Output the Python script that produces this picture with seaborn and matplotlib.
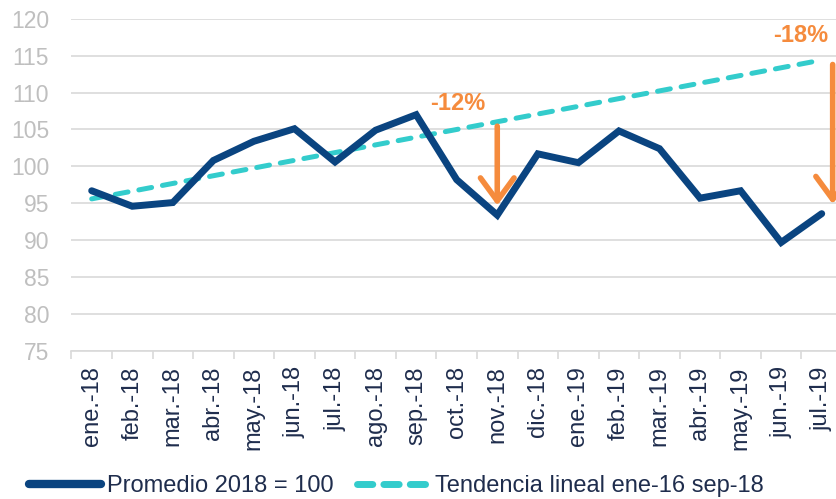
import numpy as np
import pandas as pd
import matplotlib
matplotlib.use("Agg")
import matplotlib.pyplot as plt
import seaborn as sns
from matplotlib.lines import Line2D

MONTHS = ["ene.-18", "feb.-18", "mar.-18", "abr.-18", "may.-18", "jun.-18",
          "jul.-18", "ago.-18", "sep.-18", "oct.-18", "nov.-18", "dic.-18",
          "ene.-19", "feb.-19", "mar.-19", "abr.-19", "may.-19", "jun.-19", "jul.-19"]
INDEX = [96.7, 94.6, 95.1, 100.8, 103.4, 105.1, 100.6, 104.9, 107.0, 98.2,
         93.4, 101.7, 100.5, 104.8, 102.4, 95.7, 96.7, 89.7, 93.6]
TREND_START, TREND_END = 95.6, 114.4
GAP_LABELS = ["-12%", "-18%"]
GAP_MONTHS = ["nov.-18", "jul.-19"]

NAVY = "#0A4480"
TEAL = "#33CCCC"
ORANGE = "#F58B3D"
GRID = "#D9D9D9"
TXT = "#1F2D4D"

df = pd.DataFrame({"pos": np.arange(len(MONTHS)), "mes": MONTHS, "valor": INDEX})
df["tendencia"] = np.linspace(TREND_START, TREND_END, len(MONTHS))

sns.set_theme(style="white")
plt.rcParams["font.family"] = ["Liberation Sans", "DejaVu Sans"]

fig = plt.figure(figsize=(8.36, 4.99), dpi=100)
ax = fig.add_axes([71.4 / 836, 1 - 351 / 499, 770.6 / 836, (351 - 18.7) / 499])

sns.lineplot(data=df, x="pos", y="tendencia", ax=ax, color=TEAL, lw=3.6,
             linestyle=(0, (2.6, 2.2)), dash_capstyle="round", zorder=3)
sns.lineplot(data=df, x="pos", y="valor", ax=ax, color=NAVY, lw=5, zorder=4,
             solid_joinstyle="miter")

# gap arrows from the trend down to the series
for m, dx in zip(GAP_MONTHS, [0.0, 0.27]):
    i = MONTHS.index(m)
    tr = df.loc[i, "tendencia"]
    ax.annotate("", xy=(i + dx, df.loc[i, "valor"] + 1.3), xytext=(i + dx, tr - 0.6),
                arrowprops=dict(arrowstyle="->,head_length=0.75,head_width=0.55",
                                color=ORANGE, lw=4, mutation_scale=22,
                                shrinkA=0, shrinkB=0), zorder=5)

ax.text(9.03, 108.45, GAP_LABELS[0], color=ORANGE, fontsize=17, fontweight="bold",
        ha="center", va="center")
ax.text(17.49, 117.66, GAP_LABELS[1], color=ORANGE, fontsize=17, fontweight="bold",
        ha="center", va="center")

ax.set_xlim(-0.5, len(MONTHS) - 0.5)
ax.set_ylim(75, 120)
ax.set_yticks(range(75, 121, 5))
ax.yaxis.grid(True, color=GRID, lw=1.2)
ax.set_axisbelow(True)
ax.set_xticks(df["pos"])
ax.set_xticklabels(MONTHS, rotation=90, color=TXT, fontsize=17)
ax.set_xticks(np.arange(-0.5, len(MONTHS), 1), minor=True)
ax.tick_params(axis="x", which="major", length=0, pad=11)
ax.tick_params(axis="x", which="minor", length=6, width=1.2, color=GRID, bottom=True)
ax.tick_params(axis="y", length=0, labelsize=16.5, labelcolor="#BFBFBF", pad=16)
ax.set_xlabel("")
ax.set_ylabel("")
for s in ["top", "right", "left"]:
    ax.spines[s].set_visible(False)
ax.spines["bottom"].set_color(GRID)
ax.spines["bottom"].set_linewidth(1.2)

handles = [Line2D([], [], color=NAVY, lw=6, solid_capstyle="round"),
           Line2D([], [], color=TEAL, lw=5, linestyle=(0, (2.2, 1.6)),
                  dash_capstyle="round")]
fig.legend(handles, ["Promedio 2018 = 100", "Tendencia lineal ene-16 sep-18"],
           loc="center left", bbox_to_anchor=(29 / 836, 1 - 486 / 499), ncol=2,
           frameon=False, borderpad=0, borderaxespad=0,
           handlelength=3.05, handletextpad=0.25, columnspacing=1.0,
           prop={"size": 17}, labelcolor=TXT)

fig.savefig("out.png", dpi=100)
